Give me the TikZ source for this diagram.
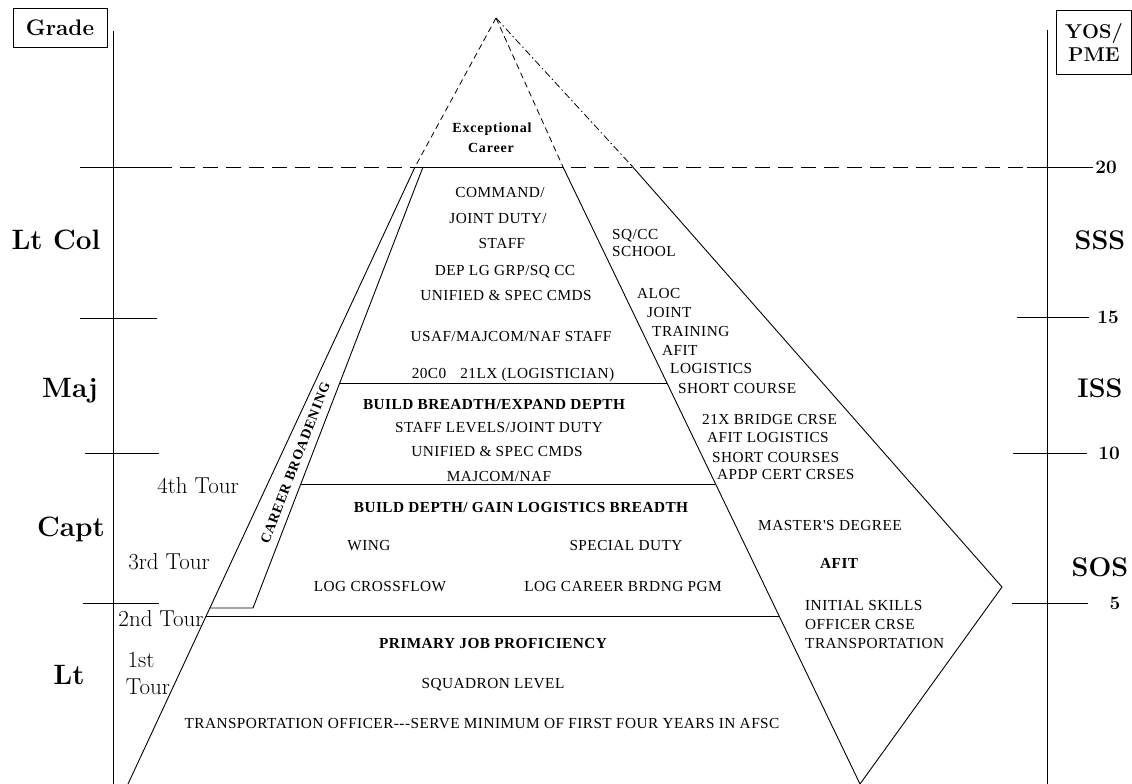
\documentclass[tikz,border=0pt]{standalone}
\usepackage{fontspec}
\newfontfamily\tnr{Liberation Serif}[LetterSpace=3]
\newfontfamily\tnrs{Liberation Serif}[LetterSpace=6]
\begin{document}
\begin{tikzpicture}[x=1pt,y=-1pt,
  ln/.style={line width=0.9pt},
  dsh/.style={line width=0.9pt,dash pattern=on 15pt off 8pt},
  dshort/.style={line width=0.8pt,dash pattern=on 6pt off 4pt},
  ddot/.style={line width=0.8pt,dash pattern=on 7pt off 3pt on 1.5pt off 3pt},
  txt/.style={font=\tnr\fontsize{15.3}{18}\selectfont,inner sep=0pt,text height=10pt,text depth=0pt},
  btxt/.style={font=\tnr\bfseries\fontsize{15.3}{18}\selectfont,inner sep=0pt,text height=10pt,text depth=0pt},
  big/.style={font=\bfseries\fontsize{28}{32}\selectfont,inner sep=0pt,text height=19pt,text depth=0pt},
  tour/.style={font=\fontsize{23}{25}\selectfont,inner sep=0pt,text height=15.5pt,text depth=0pt},
  num/.style={font=\bfseries\fontsize{19}{22}\selectfont,inner sep=0pt,text height=12.5pt,text depth=0pt},
  boxlab/.style={draw,line width=0.9pt,font=\bfseries\fontsize{22.5}{24}\selectfont,inner sep=3pt,align=center}
]
\useasboundingbox (0,0) rectangle (1132,784);
% axes
\coordinate (LAt) at (113,31); \coordinate (LAb) at (113,784);
\coordinate (RAt) at (1047,30); \coordinate (RAb) at (1047,784);
\draw[ln] (LAt) -- (LAb);
\draw[ln] (RAt) -- (RAb);
\node[boxlab,minimum width=94pt,minimum height=39pt] (grade) at (60,27.5) {Grade};
\node[boxlab,anchor=north west,minimum width=75pt,minimum height=64pt,font=\bfseries\fontsize{20}{23}\selectfont] (yos) at (1056,10) {YOS/\\PME};
% year lines
\coordinate (y20a) at (80,167); \coordinate (y20b) at (157,167);
\coordinate (y20c) at (1027,167); \coordinate (y20d) at (1093,167);
\draw[ln] (y20a) -- (y20b);
\draw[dsh] (y20b) -- (y20c);
\draw[ln] (y20c) -- (y20d);
\draw[ln] (80,318) -- (157,318);
\draw[ln] (85,453) -- (159,453);
\draw[ln] (83,603) -- (159,603);
\draw[ln] (1017,317) -- (1089,317);
\draw[ln] (1013,453) -- (1087,453);
\draw[ln] (1012,603) -- (1088,603);
% pyramid
\coordinate (apex) at (496,18);
\coordinate (PLt) at (415,167); \coordinate (PLb) at (128,784);
\coordinate (PRt) at (563,167); \coordinate (PRb) at (860,784);
\coordinate (Dt) at (631,165); \coordinate (Dr) at (1002,587);
\draw[dshort] (apex) -- (PLt);
\draw[dshort] (apex) -- (PRt);
\draw[ddot] (apex) -- (Dt);
\draw[ln] (PLt) -- (PLb);
\draw[ln] (PLt) -- (PRt);
\draw[ln] (PRt) -- (PRb);
\draw[ln] (Dt) -- (Dr) -- (PRb);
% career broadening strip
\coordinate (Sb1) at (210,608); \coordinate (Sb2) at (253,608); \coordinate (St) at (423,167);
\draw[ln] (Sb1) -- (Sb2) -- (St);
% band lines
\draw[ln] (340,383) -- (667,383);
\draw[ln] (301,484) -- (715,484);
\draw[ln] (206,616) -- (779,616);
% grade labels
\node[big] (ltcol) at (56,240) {Lt Col};
\node[big] (maj) at (70,388) {Maj};
\node[big] (capt) at (71,527) {Capt};
\node[big] (lt) at (69,675) {Lt};
\node[big,font=\bfseries\fontsize{27}{30}\selectfont] (sss) at (1100,240) {SSS};
\node[big,font=\bfseries\fontsize{27}{30}\selectfont] (iss) at (1100,388) {ISS};
\node[big,font=\bfseries\fontsize{27}{30}\selectfont] (sos) at (1100,567) {SOS};
\node[num] (n20) at (1106,167) {20};
\node[num] (n15) at (1108,317) {15};
\node[num] (n10) at (1109,453) {10};
\node[num] (n5) at (1115,603) {5};
% tours
\node[tour] (t4) at (198,486) {4th Tour};
\node[tour] (t3) at (169,562) {3rd Tour};
\node[tour] (t2) at (161,619) {2nd Tour};
\node[tour] (t1a) at (141,660) {1st};
\node[tour] (t1b) at (148,687) {Tour};
% exceptional
\node[btxt,font=\tnrs\bfseries\fontsize{14}{16}\selectfont,text height=9.5pt] (exc1) at (492,128) {Exceptional};
\node[btxt,font=\tnrs\bfseries\fontsize{14}{16}\selectfont,text height=9.5pt] (exc2) at (491,148) {Career};
% top band
\node[txt] (c1) at (500,192) {COMMAND/};
\node[txt] (c2) at (498,218) {JOINT DUTY/};
\node[txt] (c3) at (502,243) {STAFF};
\node[txt] (c4) at (505,270) {DEP LG GRP/SQ CC};
\node[txt] (c5) at (506,295) {UNIFIED \& SPEC CMDS};
\node[txt] (c6) at (511,336) {USAF/MAJCOM/NAF STAFF};
\node[txt] (c7) at (513,373) {20C0\hspace{14pt}21LX (LOGISTICIAN)};
% second band
\node[btxt] (b1) at (494,404) {BUILD BREADTH/EXPAND DEPTH};
\node[txt] (b2) at (499,427) {STAFF LEVELS/JOINT DUTY};
\node[txt] (b3) at (497,451) {UNIFIED \& SPEC CMDS};
\node[txt] (b4) at (499,476) {MAJCOM/NAF};
% third band
\node[btxt] (d1) at (521,507) {BUILD DEPTH/ GAIN LOGISTICS BREADTH};
\node[txt] (d2) at (369,545) {WING};
\node[txt] (d3) at (626,545) {SPECIAL DUTY};
\node[txt] (d4) at (380,586) {LOG CROSSFLOW};
\node[txt] (d5) at (623,586) {LOG CAREER BRDNG PGM};
% bottom band
\node[btxt] (e1) at (493,643) {PRIMARY JOB PROFICIENCY};
\node[txt] (e2) at (493,683) {SQUADRON LEVEL};
\node[txt] (e3) at (482,723) {TRANSPORTATION OFFICER---SERVE MINIMUM OF FIRST FOUR YEARS IN AFSC};
% right column
\node[txt,anchor=west] (r1) at (612,234) {SQ/CC};
\node[txt,anchor=west] (r2) at (612,251) {SCHOOL};
\node[txt,anchor=west] (r3) at (637,293) {ALOC};
\node[txt,anchor=west] (r4) at (647,312) {JOINT};
\node[txt,anchor=west] (r5) at (652,331) {TRAINING};
\node[txt,anchor=west] (r6) at (662,350) {AFIT};
\node[txt,anchor=west] (r7) at (670,368) {LOGISTICS};
\node[txt,anchor=west] (r8) at (678,388) {SHORT COURSE};
\node[txt,anchor=west] (r9) at (702,419) {21X BRIDGE CRSE};
\node[txt,anchor=west] (r10) at (707,437) {AFIT LOGISTICS};
\node[txt,anchor=west] (r11) at (712,457) {SHORT COURSES};
\node[txt,anchor=west] (r12) at (717,474) {APDP CERT CRSES};
\node[txt,anchor=west] (r13) at (758,525) {MASTER'S DEGREE};
\node[btxt,anchor=west] (r14) at (820,563) {AFIT};
\node[txt,anchor=west] (r15) at (805,605) {INITIAL SKILLS};
\node[txt,anchor=west] (r16) at (805,624) {OFFICER CRSE};
\node[txt,anchor=west] (r17) at (805,643) {TRANSPORTATION};
% career broadening
\node[btxt,font=\tnrs\bfseries\fontsize{14}{16}\selectfont,text height=9.5pt,rotate=69] (cb) at (295,463) {CAREER BROADENING};
\end{tikzpicture}
\end{document}
